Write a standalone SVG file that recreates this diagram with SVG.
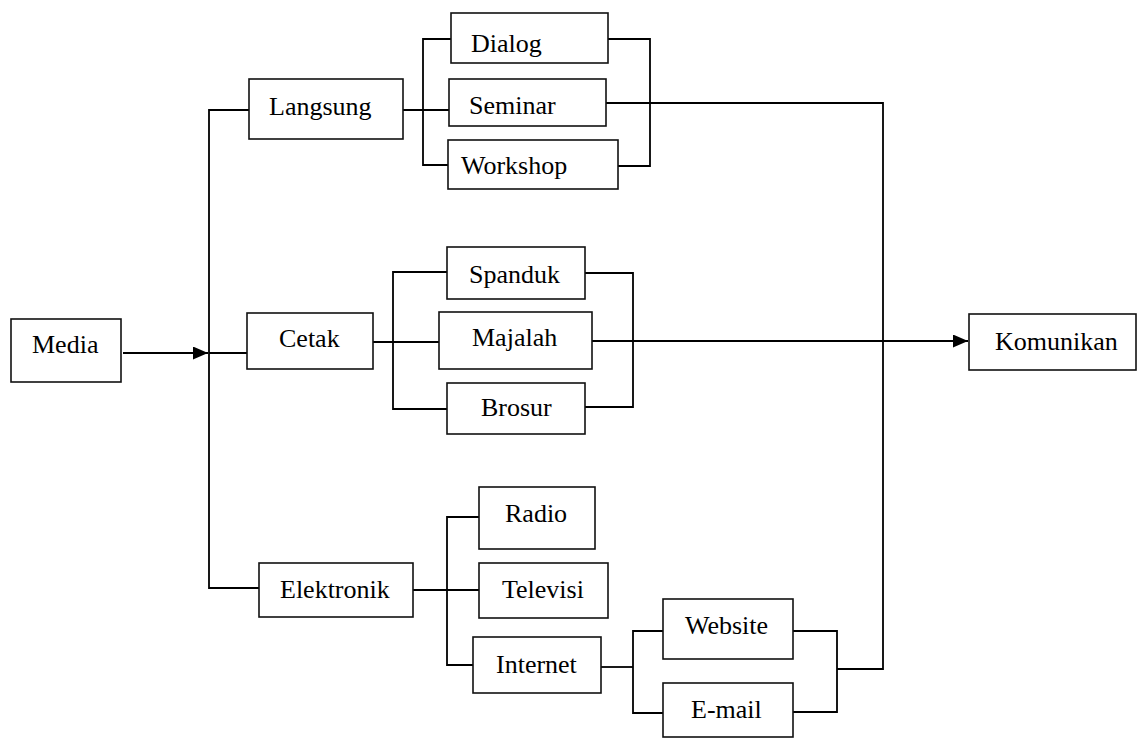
<svg xmlns="http://www.w3.org/2000/svg" width="1138" height="738" viewBox="0 0 1138 738">
<defs>
<style>
.box{fill:#fff;stroke:#111;stroke-width:1.6}
.ln{fill:none;stroke:#000;stroke-width:1.8}
</style>
<marker id="ah" markerWidth="15" markerHeight="13" refX="15" refY="6.5" orient="auto" markerUnits="userSpaceOnUse">
<path d="M0,0 L15,6.5 L0,13 Z" fill="#000"/>
</marker>
</defs>
<rect width="1138" height="738" fill="#fff"/>
<g id="connectors">
<line class="ln" x1="123" y1="353" x2="208" y2="353" marker-end="url(#ah)"/>
<path class="ln" d="M249,110 H209 V588 H259"/>
<path class="ln" d="M209,353 H247"/>
<path class="ln" d="M403,110 H449"/>
<path class="ln" d="M451,39 H423 V165 H448"/>
<path class="ln" d="M608,39 H650 V166 H618"/>
<path class="ln" d="M606,103 H883 V669 H837"/>
<path class="ln" d="M373,342 H439"/>
<path class="ln" d="M447,272 H393 V409 H447"/>
<path class="ln" d="M585,273 H633 V407 H585"/>
<line class="ln" x1="592" y1="341" x2="968" y2="341" marker-end="url(#ah)"/>
<path class="ln" d="M413,590 H479"/>
<path class="ln" d="M479,517 H447 V665 H473"/>
<path class="ln" d="M601,667 H633"/>
<path class="ln" d="M663,631 H633 V713 H663"/>
<path class="ln" d="M793,631 H837 V712 H793"/>
</g>
<g font-size="26" fill="#000">
<g id="media"><rect class="box" x="11" y="319" width="110" height="63"/><text font-family="Times New Roman" x="32" y="353">Media</text></g>
<g id="langsung"><rect class="box" x="249" y="79" width="154" height="60"/><text font-family="Times New Roman" x="269" y="115">Langsung</text></g>
<g id="dialog"><rect class="box" x="451" y="13" width="157" height="50"/><text font-family="Times New Roman" x="471" y="52">Dialog</text></g>
<g id="seminar"><rect class="box" x="449" y="79" width="157" height="47"/><text font-family="Times New Roman" x="469" y="114">Seminar</text></g>
<g id="workshop"><rect class="box" x="448" y="140" width="170" height="49"/><text font-family="Times New Roman" x="461" y="174">Workshop</text></g>
<g id="cetak"><rect class="box" x="247" y="313" width="126" height="56"/><text font-family="Times New Roman" x="279" y="347">Cetak</text></g>
<g id="spanduk"><rect class="box" x="447" y="247" width="138" height="52"/><text font-family="Times New Roman" x="469" y="283">Spanduk</text></g>
<g id="majalah"><rect class="box" x="439" y="312" width="153" height="57"/><text font-family="Times New Roman" x="472" y="346">Majalah</text></g>
<g id="brosur"><rect class="box" x="447" y="383" width="138" height="51"/><text font-family="Times New Roman" x="481" y="416">Brosur</text></g>
<g id="komunikan"><rect class="box" x="969" y="314" width="167" height="56"/><text font-family="Times New Roman" x="995" y="350">Komunikan</text></g>
<g id="elektronik"><rect class="box" x="259" y="563" width="154" height="54"/><text font-family="Times New Roman" x="280" y="598">Elektronik</text></g>
<g id="radio"><rect class="box" x="479" y="487" width="116" height="62"/><text font-family="Times New Roman" x="505" y="522">Radio</text></g>
<g id="televisi"><rect class="box" x="479" y="563" width="129" height="55"/><text font-family="Times New Roman" x="502" y="598">Televisi</text></g>
<g id="internet"><rect class="box" x="473" y="637" width="128" height="56"/><text font-family="Times New Roman" x="496" y="673">Internet</text></g>
<g id="website"><rect class="box" x="663" y="599" width="130" height="60"/><text font-family="Times New Roman" x="685" y="634">Website</text></g>
<g id="email"><rect class="box" x="663" y="683" width="130" height="54"/><text font-family="Times New Roman" x="691" y="718">E-mail</text></g>
</g>
</svg>
